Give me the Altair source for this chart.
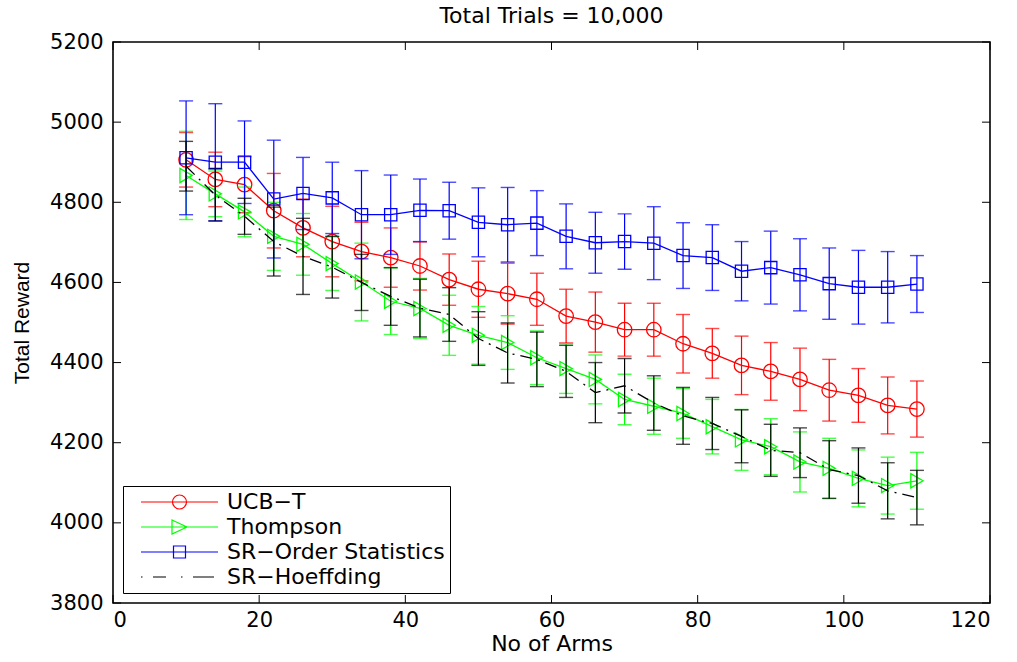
import altair as alt
import pandas as pd

# ---------------- data ----------------
arms = [10, 14, 18, 22, 26, 30, 34, 38, 42, 46, 50, 54, 58, 62, 66, 70, 74, 78, 82, 86, 90, 94, 98, 102, 106, 110]

ucb_mean = [4906, 4857, 4844, 4779, 4736, 4702, 4677, 4662, 4641, 4607, 4583, 4572, 4558,
            4516, 4501, 4482, 4482, 4447, 4423, 4393, 4378, 4358, 4331, 4318, 4293, 4284]
ucb_err = [68, 68, 70, 93, 72, 88, 73, 74, 60, 64, 70, 76, 65,
           67, 75, 66, 66, 73, 62, 73, 72, 78, 77, 67, 71, 70]

thompson_mean = [4867, 4821, 4776, 4715, 4695, 4647, 4601, 4553, 4535, 4493, 4468, 4450, 4412,
                 4385, 4358, 4308, 4291, 4273, 4240, 4207, 4190, 4152, 4136, 4111, 4093, 4105]
thompson_err = [110, 57, 62, 85, 77, 67, 97, 83, 75, 75, 72, 67, 67,
                62, 61, 63, 70, 62, 68, 76, 70, 75, 75, 71, 71, 71]

order_mean = [4911, 4900, 4900, 4808, 4822, 4811, 4769, 4769, 4780, 4779, 4750, 4744, 4748,
              4715, 4699, 4702, 4698, 4667, 4662, 4628, 4637, 4619, 4597, 4588, 4588, 4596]
order_err = [142, 146, 103, 147, 90, 89, 110, 99, 78, 71, 86, 93, 81,
             81, 76, 69, 91, 82, 82, 74, 91, 90, 89, 92, 89, 71]

hoeff_mean = [4890, 4818, 4765, 4702, 4665, 4638, 4600, 4565, 4536, 4520, 4460, 4424, 4408,
              4378, 4325, 4342, 4299, 4267, 4248, 4216, 4181, 4175, 4133, 4118, 4080, 4063]
hoeff_err = [62, 65, 45, 86, 95, 77, 70, 72, 72, 67, 67, 75, 68,
             65, 75, 68, 68, 71, 65, 66, 65, 62, 72, 69, 70, 68]

series_names = ["UCB\u2212T", "Thompson", "SR\u2212Order Statistics", "SR\u2212Hoeffding"]
series_colors = ["#ff0000", "#00ff00", "#0000ff", "#000000"]
series_means = [ucb_mean, thompson_mean, order_mean, hoeff_mean]
series_errs = [ucb_err, thompson_err, order_err, hoeff_err]

x_ticks = [0, 20, 40, 60, 80, 100, 120]
y_ticks = [3800, 4000, 4200, 4400, 4600, 4800, 5000, 5200]

title_text = "Total Trials = 10,000"
x_title = "No of Arms"
y_title = "Total Reward"

# ---------------- tables ----------------
rows = []
for name, means, errs in zip(series_names, series_means, series_errs):
    for a, m, e in zip(arms, means, errs):
        rows.append({"series": name, "arms": a, "reward": m, "lo": m - e, "hi": m + e})
df = pd.DataFrame(rows)

# ---------------- styling ----------------
W, H = 877, 561
xs = alt.Scale(domain=[0, 120], nice=False, zero=False)
ys = alt.Scale(domain=[3800, 5200], nice=False, zero=False)

xaxis = alt.Axis(values=x_ticks, format="d", labelFont="DejaVu Sans", labelFontSize=21,
                 labelColor="black", ticks=False, tickSize=0, domain=False, grid=False,
                 labelPadding=6, titleFont="DejaVu Sans", titleFontSize=22,
                 titleFontWeight="normal", titleColor="black", titlePadding=3)
yaxis = alt.Axis(values=y_ticks, format="d", labelFont="DejaVu Sans", labelFontSize=21,
                 labelColor="black", ticks=False, tickSize=0, domain=False, grid=False,
                 labelPadding=10, titleFont="Liberation Sans", titleFontSize=21,
                 titleFontWeight="normal", titleColor="black", titlePadding=17)


def X(field):
    return alt.X(field, type="quantitative", scale=xs, axis=xaxis, title=x_title)


def Y(field):
    return alt.Y(field, type="quantitative", scale=ys, axis=yaxis, title=y_title)


markers = ["circle", "triangle-right", "square", None]
marker_sizes = [210, 200, 150, 0]
dashes = [None, None, None, [12, 6, 2, 6]]

layers = []
base = alt.Chart(df)
for name, col, shp, msz, dash in zip(series_names, series_colors, markers, marker_sizes, dashes):
    sub = base.transform_filter(alt.datum.series == name)
    layers.append(sub.mark_rule(color=col, strokeWidth=1.2).encode(
        x=X("arms"), y=Y("lo"), y2=alt.Y2("hi", title=y_title)))
    layers.append(sub.mark_tick(color=col, orient="horizontal", size=14, thickness=1.4).encode(
        x=X("arms"), y=Y("lo")))
    layers.append(sub.mark_tick(color=col, orient="horizontal", size=14, thickness=1.4).encode(
        x=X("arms"), y=Y("hi")))
    line_kw = dict(color=col, strokeWidth=1.3)
    if dash:
        line_kw["strokeDash"] = dash
    layers.append(sub.mark_line(**line_kw).encode(x=X("arms"), y=Y("reward")))
    if shp:
        layers.append(sub.mark_point(shape=shp, size=msz, color=col, filled=False,
                                     strokeWidth=1.3, opacity=1).encode(
            x=X("arms"), y=Y("reward")))

# inward ticks on all four sides (MATLAB box style)
xt_df = pd.DataFrame({"t": x_ticks})
yt_df = pd.DataFrame({"t": y_ticks})
TL = 8
layers.append(alt.Chart(xt_df).mark_rule(color="black", strokeWidth=1).encode(
    x=X("t"), y=alt.value(H), y2=alt.value(H - TL)))
layers.append(alt.Chart(xt_df).mark_rule(color="black", strokeWidth=1).encode(
    x=X("t"), y=alt.value(0), y2=alt.value(TL)))
layers.append(alt.Chart(yt_df).mark_rule(color="black", strokeWidth=1).encode(
    y=Y("t"), x=alt.value(0), x2=alt.value(TL)))
layers.append(alt.Chart(yt_df).mark_rule(color="black", strokeWidth=1).encode(
    y=Y("t"), x=alt.value(W), x2=alt.value(W - TL)))

# legend (line + marker symbols as custom paths; 1 unit = 10 px)
legend_paths = [
    "M0.2,0 H7.9 M3.35,0 A0.7,0.7 0 1,1 4.75,0 A0.7,0.7 0 1,1 3.35,0",
    "M0.2,0 H7.9 M3.3,-0.7 L4.8,0 L3.3,0.7 Z",
    "M0.2,0 H7.9 M3.45,-0.6 H4.65 V0.6 H3.45 Z",
    "M0.2,0 H0.35 M1.4,0 H2.7 M4.2,0 H4.35 M5.4,0 H7.5",
]
leg_df = pd.DataFrame({"series": series_names, "arms": [10] * 4, "reward": [4800] * 4})
leg = alt.Legend(title=None, orient="none", legendX=10, legendY=444, padding=5,
                 strokeColor="black", fillColor="white", cornerRadius=0,
                 labelFont="DejaVu Sans", labelFontSize=22, labelColor="black",
                 labelOffset=77, symbolSize=400, symbolStrokeWidth=1.2,
                 rowPadding=3, symbolOpacity=1, labelLimit=400)
layers.append(alt.Chart(leg_df).mark_point(opacity=0, filled=False).encode(
    x=X("arms"), y=Y("reward"),
    color=alt.Color("series:N", scale=alt.Scale(domain=series_names, range=series_colors), legend=leg),
    shape=alt.Shape("series:N", scale=alt.Scale(domain=series_names, range=legend_paths), legend=leg),
))

chart = alt.layer(*layers).properties(
    width=W, height=H,
    autosize=alt.AutoSizeParams(type="none"),
    padding={"left": 113, "top": 42, "right": 27, "bottom": 59},
    title=alt.TitleParams(title_text, font="DejaVu Sans", fontSize=22, fontWeight="normal",
                          color="black", anchor="middle", offset=3),
    background="white",
).configure_view(stroke="black", strokeWidth=1.6)

chart.save("out.html", embed_options={"renderer": "svg", "actions": False})
